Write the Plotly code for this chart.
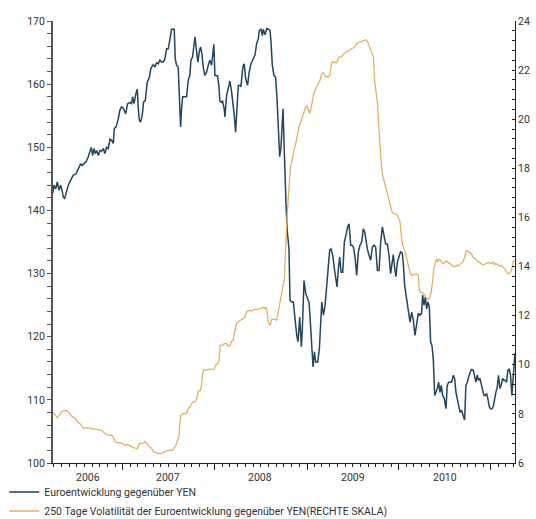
import pandas as pd
import plotly.graph_objects as go

# ---- data (dates as decimal years) ----
eur_t = [2006.236, 2006.250, 2006.268, 2006.286, 2006.304, 2006.322, 2006.337, 2006.351, 2006.366, 2006.380,
         2006.406, 2006.431, 2006.460, 2006.489, 2006.511, 2006.525, 2006.540, 2006.554, 2006.569, 2006.598,
         2006.623, 2006.641, 2006.656, 2006.670, 2006.685, 2006.699, 2006.714, 2006.732, 2006.750, 2006.768,
         2006.786, 2006.804, 2006.822, 2006.840, 2006.859, 2006.877, 2006.895, 2006.906, 2006.924, 2006.949,
         2006.967, 2006.985, 2007.004, 2007.029, 2007.051, 2007.076, 2007.094, 2007.105, 2007.120, 2007.141,
         2007.156, 2007.167, 2007.178, 2007.192, 2007.210, 2007.225, 2007.243, 2007.264, 2007.286, 2007.304,
         2007.330, 2007.348, 2007.366, 2007.384, 2007.402, 2007.420, 2007.438, 2007.456, 2007.475, 2007.493,
         2007.511, 2007.529, 2007.547, 2007.558, 2007.569, 2007.583, 2007.601, 2007.616, 2007.627, 2007.638,
         2007.649, 2007.674, 2007.692, 2007.710, 2007.728, 2007.739, 2007.757, 2007.768, 2007.783, 2007.793,
         2007.804, 2007.815, 2007.830, 2007.844, 2007.859, 2007.873,
         2007.891, 2007.909, 2007.928, 2007.946, 2007.964, 2007.989, 2008.000, 2008.029, 2008.044, 2008.054,
         2008.073, 2008.083, 2008.101, 2008.109, 2008.127, 2008.145, 2008.163, 2008.181, 2008.199, 2008.210,
         2008.225, 2008.236, 2008.254, 2008.272, 2008.283, 2008.297, 2008.308, 2008.319, 2008.333, 2008.355,
         2008.370, 2008.391, 2008.417, 2008.435, 2008.453, 2008.471, 2008.482, 2008.500, 2008.515, 2008.525,
         2008.544, 2008.562, 2008.580, 2008.598, 2008.609, 2008.623, 2008.641, 2008.659, 2008.674, 2008.688,
         2008.703, 2008.717, 2008.732, 2008.739, 2008.750, 2008.761, 2008.772, 2008.786, 2008.804, 2008.815,
         2008.833, 2008.851, 2008.870, 2008.888, 2008.902, 2008.920, 2008.938, 2008.949, 2008.967, 2008.986,
         2009.000, 2009.022, 2009.036, 2009.051, 2009.065, 2009.080, 2009.094, 2009.116, 2009.134, 2009.149,
         2009.160, 2009.178, 2009.196, 2009.214, 2009.232, 2009.246, 2009.261, 2009.279, 2009.297, 2009.315,
         2009.326, 2009.341, 2009.355, 2009.370, 2009.388, 2009.406, 2009.420, 2009.442, 2009.457, 2009.475,
         2009.489, 2009.504, 2009.522, 2009.540, 2009.558,
         2009.576, 2009.594, 2009.612, 2009.627, 2009.641, 2009.656, 2009.674, 2009.692, 2009.710, 2009.728,
         2009.746, 2009.765, 2009.783, 2009.801, 2009.819, 2009.837, 2009.855, 2009.873, 2009.891, 2009.909,
         2009.928, 2009.938, 2009.953, 2009.967, 2009.982, 2010.000, 2010.018, 2010.036, 2010.047, 2010.062,
         2010.076, 2010.091, 2010.105, 2010.120, 2010.138, 2010.156, 2010.174, 2010.192, 2010.210, 2010.228,
         2010.246, 2010.257, 2010.272, 2010.286, 2010.301, 2010.315, 2010.330, 2010.344, 2010.359, 2010.373,
         2010.388, 2010.402, 2010.417, 2010.431, 2010.446, 2010.460, 2010.475, 2010.493, 2010.511, 2010.525,
         2010.540, 2010.554, 2010.572, 2010.591, 2010.605, 2010.620, 2010.634, 2010.649, 2010.663, 2010.681,
         2010.699, 2010.714, 2010.728, 2010.743, 2010.757, 2010.772, 2010.786, 2010.808, 2010.822, 2010.837,
         2010.851, 2010.866, 2010.880, 2010.895, 2010.909, 2010.924, 2010.938, 2010.953, 2010.967, 2010.982,
         2010.996, 2011.011, 2011.025, 2011.040, 2011.054, 2011.069, 2011.083, 2011.098, 2011.112, 2011.127,
         2011.141, 2011.156, 2011.170, 2011.185, 2011.199, 2011.214, 2011.228, 2011.243, 2011.257, 2011.261]

eur_yen = [142.7, 144.0, 143.4, 144.5, 143.2, 144.0, 143.2, 142.1, 141.9, 142.7,
           144.0, 144.8, 145.6, 145.8, 146.6, 146.9, 147.4, 147.1, 147.3, 147.7,
           148.5, 149.3, 150.0, 148.7, 149.8, 149.0, 149.5, 148.7, 149.5, 149.4,
           149.8, 149.0, 150.0, 149.8, 151.3, 151.1, 150.6, 153.0, 153.2, 154.5,
           155.9, 156.4, 156.2, 155.3, 156.9, 157.1, 156.9, 158.0, 156.9, 158.5,
           159.2, 156.1, 154.3, 154.0, 155.1, 157.2, 157.4, 160.3, 161.0, 162.5,
           163.1, 162.7, 163.4, 163.2, 163.8, 163.5, 163.5, 164.0, 165.6, 165.6,
           166.9, 168.7, 168.7, 168.7, 164.0, 163.0, 162.7, 157.7, 153.2, 156.1,
           158.0, 158.0, 158.0, 160.6, 161.4, 163.8, 164.3, 165.6, 167.5, 166.2,
           164.8, 163.5, 165.1, 165.9, 164.8, 162.7,
           161.4, 161.9, 163.0, 163.8, 163.0, 166.3, 161.4, 161.3, 159.6, 157.3,
           157.1, 157.4, 156.1, 154.8, 158.2, 159.3, 160.5, 158.8, 156.9, 155.1,
           152.4, 156.1, 159.8, 159.8, 159.6, 161.9, 163.0, 163.2, 160.9, 159.8,
           161.7, 163.2, 164.0, 164.6, 166.4, 167.2, 168.5, 168.7, 167.7, 168.7,
           167.8, 168.8, 168.7, 168.5, 166.7, 163.0, 161.4, 161.1, 157.7, 152.4,
           148.5, 150.0, 153.5, 156.1, 150.8, 144.5, 140.8, 136.6, 133.9, 125.8,
           125.5, 125.5, 122.3, 120.2, 119.2, 123.1, 118.4, 121.3, 128.9, 126.8,
           126.3, 125.4, 122.3, 117.6, 115.2, 117.6, 116.0, 116.0, 118.1, 122.3,
           125.5, 123.4, 125.0, 128.1, 130.8, 133.7, 133.9, 132.9, 130.8, 129.2,
           127.9, 130.8, 132.6, 130.2, 130.2, 135.0, 136.1, 137.4, 137.9, 134.5,
           134.5, 134.2, 132.6, 129.7, 133.4,
           134.5, 135.0, 137.1, 136.6, 135.0, 133.9, 132.9, 132.1, 134.2, 134.5,
           134.2, 130.5, 130.5, 135.0, 137.4, 135.8, 134.7, 134.7, 132.9, 130.0,
           131.8, 133.0, 130.8, 129.5, 131.8, 132.9, 133.5, 133.2, 131.6, 128.1,
           126.6, 125.0, 124.2, 122.3, 123.9, 122.6, 120.2, 121.8, 123.7, 123.4,
           123.7, 126.6, 125.0, 126.3, 124.4, 125.5, 124.7, 119.2, 118.6, 116.5,
           110.7, 111.2, 111.8, 112.8, 111.2, 112.3, 110.7, 110.2, 108.6, 112.3,
           112.8, 112.8, 112.8, 113.9, 113.4, 111.2, 110.2, 108.6, 108.1, 108.3,
           107.5, 106.8, 112.3, 112.8, 113.6, 114.4, 114.8, 114.7, 113.9, 112.8,
           113.9, 113.1, 113.4, 112.3, 111.8, 110.7, 110.7, 111.0, 110.2, 108.9,
           108.6, 108.6, 108.9, 110.2, 111.2, 112.0, 113.9, 111.8, 112.3, 113.4,
           113.1, 113.1, 112.8, 114.7, 114.9, 113.9, 110.7, 113.6, 116.0, 117.4]

vol_t = [2006.236, 2006.261, 2006.286, 2006.308, 2006.333, 2006.359, 2006.388, 2006.409, 2006.431, 2006.453,
         2006.478, 2006.496, 2006.514, 2006.533, 2006.551, 2006.569, 2006.605, 2006.641, 2006.659, 2006.678,
         2006.714, 2006.750, 2006.768, 2006.786, 2006.804, 2006.822, 2006.840, 2006.877, 2006.895, 2006.913,
         2006.931, 2006.967, 2006.996, 2007.022, 2007.047, 2007.076, 2007.105, 2007.130, 2007.156, 2007.178,
         2007.203, 2007.228, 2007.239, 2007.257, 2007.275, 2007.293, 2007.312, 2007.330, 2007.359, 2007.384,
         2007.409, 2007.438, 2007.475, 2007.504, 2007.540, 2007.554, 2007.576, 2007.594, 2007.609, 2007.620,
         2007.630, 2007.649, 2007.674, 2007.692, 2007.710, 2007.728, 2007.746, 2007.764, 2007.783, 2007.801,
         2007.819, 2007.844, 2007.855, 2007.866, 2007.880,
         2007.928, 2007.964, 2007.993, 2008.007, 2008.029, 2008.044, 2008.058, 2008.080, 2008.101, 2008.123,
         2008.145, 2008.163, 2008.181, 2008.199, 2008.217, 2008.236, 2008.254, 2008.272, 2008.290, 2008.308,
         2008.326, 2008.344, 2008.362, 2008.380, 2008.399, 2008.417, 2008.435, 2008.453, 2008.471, 2008.489,
         2008.507, 2008.525, 2008.544, 2008.554, 2008.565, 2008.580, 2008.598, 2008.616, 2008.634, 2008.652,
         2008.670, 2008.688, 2008.707, 2008.725, 2008.743, 2008.754, 2008.761, 2008.768, 2008.775, 2008.786,
         2008.797, 2008.808, 2008.819, 2008.833, 2008.844, 2008.859, 2008.877, 2008.895, 2008.913, 2008.931,
         2008.949, 2008.967, 2008.986, 2009.000, 2009.015, 2009.029, 2009.044, 2009.058, 2009.073, 2009.087,
         2009.105, 2009.123, 2009.141, 2009.160, 2009.178, 2009.196, 2009.214, 2009.232, 2009.250, 2009.261,
         2009.275, 2009.297, 2009.319, 2009.333, 2009.348, 2009.370, 2009.391, 2009.413, 2009.431, 2009.449,
         2009.467, 2009.486, 2009.504, 2009.522, 2009.540, 2009.558,
         2009.576, 2009.598, 2009.620, 2009.641, 2009.656, 2009.678, 2009.699, 2009.721, 2009.736, 2009.750,
         2009.765, 2009.779, 2009.794, 2009.808, 2009.822, 2009.837, 2009.859, 2009.880, 2009.895, 2009.909,
         2009.924, 2009.938, 2009.957, 2009.975, 2009.993, 2010.011, 2010.025, 2010.040, 2010.054, 2010.069,
         2010.083, 2010.101, 2010.120, 2010.138, 2010.156, 2010.174, 2010.192, 2010.210, 2010.221, 2010.236,
         2010.250, 2010.264, 2010.283, 2010.301, 2010.319, 2010.337, 2010.351, 2010.366, 2010.380, 2010.395,
         2010.409, 2010.424, 2010.438, 2010.453, 2010.467, 2010.482, 2010.496, 2010.511, 2010.525, 2010.540,
         2010.554, 2010.569, 2010.583, 2010.598, 2010.612, 2010.627, 2010.641, 2010.656, 2010.670, 2010.685,
         2010.699, 2010.714, 2010.728, 2010.743, 2010.757, 2010.772, 2010.786, 2010.808, 2010.826, 2010.844,
         2010.862, 2010.880, 2010.902, 2010.924, 2010.946, 2010.967, 2010.989, 2011.011, 2011.025, 2011.040,
         2011.054, 2011.069, 2011.083, 2011.098, 2011.112, 2011.134, 2011.156, 2011.170, 2011.185, 2011.199,
         2011.214, 2011.228, 2011.243, 2011.257]

vol_250 = [8.08, 7.94, 7.84, 7.94, 8.08, 8.13, 8.13, 8.08, 7.94, 7.88,
           7.84, 7.74, 7.64, 7.60, 7.51, 7.43, 7.43, 7.43, 7.37, 7.40,
           7.37, 7.36, 7.33, 7.26, 7.20, 7.16, 7.13, 7.13, 7.06, 6.88,
           6.83, 6.83, 6.79, 6.72, 6.76, 6.69, 6.65, 6.61, 6.59, 6.79,
           6.79, 6.82, 6.88, 6.79, 6.69, 6.65, 6.59, 6.48, 6.42, 6.38,
           6.38, 6.42, 6.48, 6.52, 6.52, 6.59, 6.72, 6.93, 7.06, 7.67,
           7.94, 8.01, 8.01, 8.01, 8.22, 8.28, 8.42, 8.49, 8.49, 8.62,
           8.92, 8.96, 9.17, 9.64, 9.78,
           9.82, 9.82, 9.82, 9.98, 10.05, 10.18, 10.79, 10.79, 10.86, 10.86,
           10.77, 10.77, 10.96, 11.00, 11.40, 11.68, 11.74, 11.81, 11.85, 11.88,
           11.95, 12.15, 12.18, 12.22, 12.18, 12.22, 12.26, 12.26, 12.29, 12.29,
           12.31, 12.35, 12.29, 12.34, 12.18, 11.74, 11.61, 11.85, 11.85, 11.85,
           11.81, 12.15, 12.56, 12.83, 13.17, 13.51, 14.19, 14.87, 15.55, 16.22,
           16.83, 17.45, 17.99, 18.26, 18.53, 18.74, 19.01, 19.41, 19.69, 19.89,
           20.09, 20.30, 20.50, 20.54, 20.36, 20.23, 20.46, 20.84, 21.04, 21.18,
           21.31, 21.45, 21.59, 21.86, 21.90, 21.75, 21.72, 21.72, 21.82, 22.20,
           22.33, 22.30, 22.30, 22.40, 22.54, 22.54, 22.63, 22.71, 22.74, 22.77,
           22.83, 22.88, 22.90, 22.98, 23.08, 23.12,
           23.15, 23.17, 23.20, 23.24, 23.17, 22.94, 22.74, 22.54, 21.52, 21.11,
           20.70, 19.75, 18.67, 18.12, 17.72, 17.45, 17.17, 16.90, 16.63, 16.43,
           16.22, 16.16, 16.16, 16.13, 16.02, 15.82, 15.27, 14.87, 14.73, 14.59,
           14.32, 14.05, 13.78, 13.64, 13.67, 13.67, 13.71, 13.67, 13.03, 12.94,
           12.94, 12.90, 12.83, 12.69, 12.67, 12.76, 12.97, 13.44, 13.92, 14.12,
           14.32, 14.19, 14.30, 14.26, 14.16, 14.12, 14.16, 14.23, 14.19, 14.16,
           14.12, 14.08, 14.02, 13.98, 14.02, 14.05, 14.02, 14.08, 14.12, 14.16,
           14.21, 14.39, 14.62, 14.66, 14.59, 14.57, 14.53, 14.39, 14.32, 14.26,
           14.19, 14.16, 14.09, 14.08, 14.12, 14.16, 14.15, 14.12, 14.19, 14.08,
           14.12, 14.08, 14.05, 14.02, 14.05, 13.98, 13.89, 13.78, 13.71, 13.71,
           13.78, 13.92, 14.21, 14.26]

year_labels = ["2006", "2007", "2008", "2009", "2010"]
year_label_pos = [2006.62, 2007.49, 2008.49, 2009.50, 2010.50]

x_start, x_end = 2006.239, 2011.262
series_names = ["Euroentwicklung gegenüber YEN",
                "250 Tage Volatilität der Euroentwicklung gegenüber YEN(RECHTE SKALA)"]

assert len(eur_t) == len(eur_yen), (len(eur_t), len(eur_yen))
assert len(vol_t) == len(vol_250), (len(vol_t), len(vol_250))


def to_date(t):
    y = int(t)
    start = pd.Timestamp(y, 1, 1)
    days = (pd.Timestamp(y + 1, 1, 1) - start).days
    return start + pd.Timedelta(days=(t - y) * days)


FONT = "Roboto"
TXT = "#333333"

fig = go.Figure()
fig.add_trace(go.Scatter(x=[to_date(t) for t in eur_t], y=eur_yen, mode="lines",
                         name=series_names[0], line=dict(color="#21465f", width=1.5)))
fig.add_trace(go.Scatter(x=[to_date(t) for t in vol_t], y=vol_250, mode="lines",
                         name=series_names[1], yaxis="y2",
                         line=dict(color="#e2b35f", width=1.3)))

for lab, pos in zip(year_labels, year_label_pos):
    fig.add_annotation(x=to_date(pos), y=0, xref="x", yref="paper", yanchor="top",
                       yshift=-6, text=lab, showarrow=False,
                       font=dict(family=FONT, size=10.5, color=TXT))

fig.update_layout(
    width=536, height=519,
    margin=dict(l=53, r=21, t=21, b=56, autoexpand=False),
    paper_bgcolor="white", plot_bgcolor="white",
    font=dict(family=FONT, size=10.5, color=TXT),
    showlegend=True,
    legend=dict(orientation="v", xref="container", yref="container",
                x=0.008, xanchor="left", y=0.08, yanchor="top",
                font=dict(family=FONT, size=10.5, color=TXT), itemwidth=30,
                bgcolor="rgba(0,0,0,0)", tracegroupgap=0),
    xaxis=dict(type="date", range=[to_date(x_start), to_date(x_end)],
               showgrid=False, zeroline=False, showline=True, linecolor="#222", linewidth=1.3,
               ticks="outside", ticklen=6, tickcolor="#222", tickwidth=1.2,
               dtick="M12", tick0="2006-01-01", showticklabels=False,
               minor=dict(dtick="M1", tick0="2006-01-01", ticks="outside", ticklen=3,
                          tickcolor="#222", tickwidth=1)),
    yaxis=dict(range=[100, 170], dtick=10, showgrid=False, zeroline=False,
               showline=True, linecolor="#555", linewidth=2,
               ticks="outside", ticklen=4, tickcolor="#555", tickwidth=1.3,
               minor=dict(dtick=2, ticks="outside", ticklen=4, tickcolor="#555", tickwidth=1.3),
               tickfont=dict(family=FONT, size=10.5, color=TXT)),
    yaxis2=dict(range=[6, 24], dtick=2, overlaying="y", side="right", showgrid=False,
                zeroline=False, showline=True, linecolor="#222", linewidth=1,
                ticks="inside", ticklen=3, tickcolor="#222",
                minor=dict(dtick=0.4, ticks="inside", ticklen=3, tickcolor="#222"),
                tickfont=dict(family=FONT, size=10.5, color=TXT)),
)

fig.write_html("out.html", config={"displayModeBar": False},
               post_script="document.body.style.margin='0px';document.body.style.overflow='hidden';")
